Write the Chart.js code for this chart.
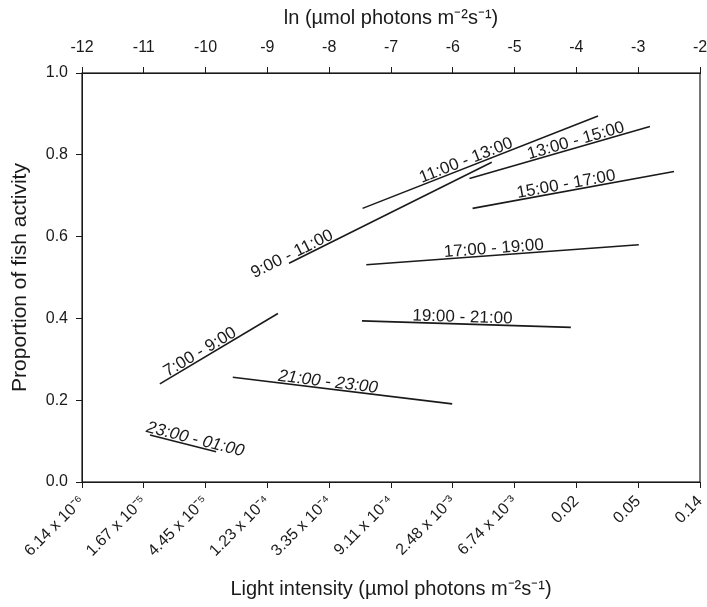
<!DOCTYPE html>
<html>
<head>
<meta charset="utf-8">
<script src="https://cdn.jsdelivr.net/npm/chart.js@4.4.0/dist/chart.umd.min.js"></script>
<style>
  body { margin: 0; background: #fff; }
  #wrap { width: 707px; height: 607px; }
</style>
</head>
<body>
<div id="wrap"><canvas id="light-chart"></canvas></div>
<script>
// ln of light intensity on x, proportion of fish activity on y
var periods = ["23:00 - 01:00", "7:00 - 9:00", "21:00 - 23:00", "9:00 - 11:00", "11:00 - 13:00",
               "13:00 - 15:00", "15:00 - 17:00", "17:00 - 19:00", "19:00 - 21:00"];
var lnStart  = [-10.90, -10.74, -9.56, -8.65, -7.46, -5.73, -5.68, -7.40, -7.47];
var lnEnd    = [-9.83, -8.83, -6.01, -5.37, -3.65, -2.81, -2.42, -2.99, -4.09];
var actStart = [0.115, 0.240, 0.256, 0.535, 0.669, 0.742, 0.669, 0.531, 0.394];
var actEnd   = [0.074, 0.412, 0.191, 0.782, 0.895, 0.869, 0.759, 0.580, 0.378];

var lnTicks = [-12, -11, -10, -9, -8, -7, -6, -5, -4, -3, -2];
var lightTicks = ["6.14 x 10\u207B\u2076", "1.67 x 10\u207B\u2075", "4.45 x 10\u207B\u2075", "1.23 x 10\u207B\u2074",
                  "3.35 x 10\u207B\u2074", "9.11 x 10\u207B\u2074", "2.48 x 10\u207B\u00B3", "6.74 x 10\u207B\u00B3",
                  "0.02", "0.05", "0.14"];
var activityTicks = [0, 0.2, 0.4, 0.6, 0.8, 1.0];

// where the label sits along each line, and which ones look slanted
var labelAt = [0.66, 0.37, 0.43, 0.03, 0.45, 0.60, 0.47, 0.47, 0.48];
var labelItalic = [true, false, true, false, false, false, false, false, false];

var FONT = "'Liberation Sans', Arial, sans-serif";
var INK = "#1a1a1a";

var datasets = periods.map(function (p, i) {
    return {
        label: p,
        data: [{ x: lnStart[i], y: actStart[i] }, { x: lnEnd[i], y: actEnd[i] }],
        borderColor: INK,
        borderWidth: 1.6,
        pointRadius: 0,
        fill: false,
        xAxisID: 'x',
        yAxisID: 'y'
    };
});

// writes each period name along its line
var lineLabels = {
    id: 'lineLabels',
    afterDatasetsDraw: function (chart) {
        var ctx = chart.ctx;
        ctx.save();
        chart.data.datasets.forEach(function (ds, i) {
            var pts = chart.getDatasetMeta(i).data;
            var a = pts[0], b = pts[1];
            var ang = Math.atan2(b.y - a.y, b.x - a.x);
            var t = labelAt[i];
            ctx.save();
            ctx.translate(a.x + t * (b.x - a.x), a.y + t * (b.y - a.y));
            ctx.rotate(ang);
            ctx.font = (labelItalic[i] ? "italic " : "") + "17px " + FONT;
            ctx.fillStyle = INK;
            ctx.textAlign = 'center';
            ctx.textBaseline = 'alphabetic';
            ctx.fillText(ds.label, 0, -2);
            ctx.restore();
        });
        ctx.restore();
    }
};

// box round the plot
var frame = {
    id: 'frame',
    afterDraw: function (chart) {
        var c = chart.chartArea, ctx = chart.ctx;
        ctx.save();
        ctx.strokeStyle = INK;
        ctx.lineWidth = 1.2;
        ctx.strokeRect(c.left, c.top, c.right - c.left, c.bottom - c.top);
        ctx.restore();
    }
};

new Chart(document.getElementById("light-chart"), {
    type: 'line',
    data: { datasets: datasets },
    plugins: [lineLabels, frame],
    options: {
        responsive: true,
        maintainAspectRatio: false,
        animation: false,
        layout: { padding: 0 },
        plugins: {
            legend: { display: false },
            tooltip: { enabled: false }
        },
        scales: {
            x: {
                type: 'linear',
                position: 'bottom',
                min: -12,
                max: -2,
                afterBuildTicks: function (s) { s.ticks = lnTicks.map(function (v) { return { value: v }; }); },
                ticks: {
                    autoSkip: false,
                    minRotation: 45,
                    maxRotation: 45,
                    padding: 4,
                    color: INK,
                    font: { family: FONT, size: 16 },
                    callback: function (v) { return lightTicks[lnTicks.indexOf(v)]; }
                },
                grid: { drawOnChartArea: false, tickLength: 6, color: INK },
                border: { color: INK },
                title: {
                    display: true,
                    text: "Light intensity (\u00B5mol photons m\u207B\u00B2s\u207B\u00B9)",
                    color: INK,
                    font: { family: FONT, size: 20 },
                    padding: { top: 0, bottom: 6 }
                },
                afterFit: function (s) { s.height = 125; s.paddingLeft = 0; s.paddingRight = 7; }
            },
            x2: {
                type: 'linear',
                position: 'top',
                min: -12,
                max: -2,
                afterBuildTicks: function (s) { s.ticks = lnTicks.map(function (v) { return { value: v }; }); },
                ticks: {
                    autoSkip: false,
                    maxRotation: 0,
                    padding: 10,
                    color: INK,
                    font: { family: FONT, size: 16 },
                    callback: function (v) { return String(v); }
                },
                grid: { drawOnChartArea: false, tickLength: 6, color: INK },
                border: { color: INK },
                title: {
                    display: true,
                    text: "ln (\u00B5mol photons m\u207B\u00B2s\u207B\u00B9)",
                    color: INK,
                    font: { family: FONT, size: 20 },
                    padding: { top: 6, bottom: 0 }
                },
                afterFit: function (s) { s.height = 73; s.paddingLeft = 0; s.paddingRight = 7; }
            },
            y: {
                type: 'linear',
                position: 'left',
                min: 0,
                max: 1,
                afterBuildTicks: function (s) { s.ticks = activityTicks.map(function (v) { return { value: v }; }); },
                ticks: {
                    padding: 8,
                    color: INK,
                    font: { family: FONT, size: 16 },
                    callback: function (v) { return v.toFixed(1); }
                },
                grid: { drawOnChartArea: false, tickLength: 6, color: INK },
                border: { color: INK },
                title: {
                    display: true,
                    text: "Proportion of fish activity",
                    color: INK,
                    font: { family: FONT, size: 21 },
                    padding: { top: 8, bottom: 0 }
                },
                afterFit: function (s) { s.width = 82; s.paddingTop = 0; s.paddingBottom = 0; }
            }
        }
    }
});
</script>
</body>
</html>
